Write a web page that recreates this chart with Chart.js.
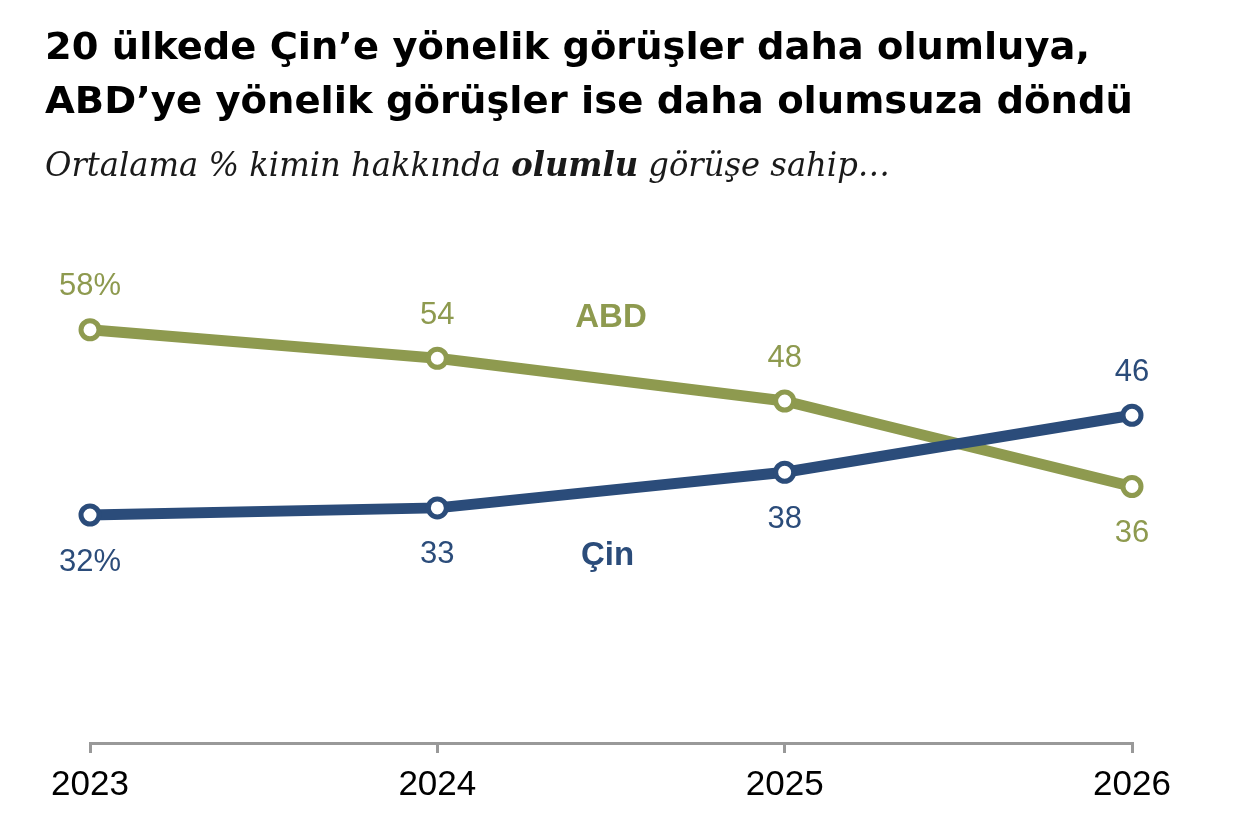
<!DOCTYPE html>
<html lang="tr">
<head>
<meta charset="utf-8">
<script src="https://cdn.jsdelivr.net/npm/chart.js@4/dist/chart.umd.min.js"></script>
<style>
  html, body { margin: 0; padding: 0; background: #fff; }
  #wrap { position: relative; width: 1255px; height: 832px; overflow: hidden; }
  canvas { position: absolute; left: 0; top: 0; }
  .tl { position: absolute; left: 45px; margin: 0; transform-origin: 0 0;
    font-family: 'DejaVu Sans Condensed', 'DejaVu Sans', sans-serif;
    font-weight: bold; font-size: 38px; line-height: 54px; color: #000; white-space: nowrap; }
  .subtitle { position: absolute; left: 45px; top: 145px; margin: 0; transform-origin: 0 0;
    font-family: 'DejaVu Serif', 'Liberation Serif', serif; font-style: italic;
    font-size: 33px; line-height: 40px; color: #1a1a1a; white-space: nowrap; }
</style>
</head>
<body>
<div id="wrap">
  <canvas id="c" width="1255" height="832"></canvas>
  <h1 class="tl" id="t1" data-w="1045" style="top:19px">20 ülkede Çin’e yönelik görüşler daha olumluya,</h1>
  <h1 class="tl" id="t2" data-w="1088" style="top:73px">ABD’ye yönelik görüşler ise daha olumsuza döndü</h1>
  <p class="subtitle" id="st" data-w="845">Ortalama % kimin hakkında <b>olumlu</b> görüşe sahip…</p>
</div>
<script>
// fit text widths to reference
['t1', 't2', 'st'].forEach(id => {
  const el = document.getElementById(id);
  const w = el.getBoundingClientRect().width;
  const target = +el.dataset.w;
  el.style.transform = 'scaleX(' + (target / w) + ')';
});

const years = ['2023', '2024', '2025', '2026'];
const abdValues = [58, 54, 48, 36];
const cinValues = [32, 33, 38, 46];
const seriesNames = ['Çin', 'ABD'];

const OLIVE = '#8e9a4f';
const NAVY = '#2b4c7a';

const labelPlugin = {
  id: 'labels',
  afterDatasetsDraw(chart) {
    const ctx = chart.ctx;
    const cfg = chart.options.plugins.labels;
    ctx.save();
    ctx.textAlign = 'center';
    ctx.textBaseline = 'middle';
    chart.data.datasets.forEach((ds, di) => {
      const meta = chart.getDatasetMeta(di);
      const pos = cfg.positions[di];
      ctx.font = '31px "Liberation Sans", Arial, sans-serif';
      ctx.fillStyle = ds.borderColor;
      meta.data.forEach((pt, i) => {
        const v = ds.data[i];
        const txt = i === 0 ? v + '%' : String(v);
        const dy = pos[i] === 'above' ? -43 : 47;
        ctx.fillText(txt, pt.x, pt.y + dy);
      });
      const xs = chart.scales.x, ys = chart.scales.y;
      const np = cfg.namePos[di];
      ctx.font = 'bold 33px "Liberation Sans", Arial, sans-serif';
      ctx.fillText(ds.label, xs.getPixelForValue(np[0]), ys.getPixelForValue(np[1]));
    });
    ctx.restore();
  }
};

new Chart(document.getElementById('c'), {
  type: 'line',
  data: {
    labels: years,
    datasets: [
      { label: seriesNames[0], data: cinValues, borderColor: NAVY, backgroundColor: NAVY,
        pointBackgroundColor: '#fff', pointBorderColor: NAVY },
      { label: seriesNames[1], data: abdValues, borderColor: OLIVE, backgroundColor: OLIVE,
        pointBackgroundColor: '#fff', pointBorderColor: OLIVE }
    ]
  },
  options: {
    responsive: false,
    animation: false,
    layout: { padding: { left: 90, right: 123, top: 173, bottom: 15 } },
    elements: {
      line: { borderWidth: 11, tension: 0, borderCapStyle: 'round', borderJoinStyle: 'round' },
      point: { radius: 9, borderWidth: 5, hoverRadius: 9 }
    },
    scales: {
      x: {
        offset: false,
        grid: { display: true, drawOnChartArea: false, drawTicks: true, tickLength: 10, color: '#999', lineWidth: 3 },
        border: { display: true, color: '#999', width: 3 },
        ticks: { color: '#000', font: { family: '"Liberation Sans", Arial, sans-serif', size: 35 }, padding: 11, maxRotation: 0 }
      },
      y: { display: false, min: 0, max: 80 }
    },
    plugins: {
      legend: { display: false },
      tooltip: { enabled: false },
      labels: {
        positions: [['below', 'below', 'below', 'above'], ['above', 'above', 'above', 'below']],
        namePos: [[1.49, 26.3], [1.5, 59.7]]
      }
    }
  },
  plugins: [labelPlugin]
});
</script>
</body>
</html>
